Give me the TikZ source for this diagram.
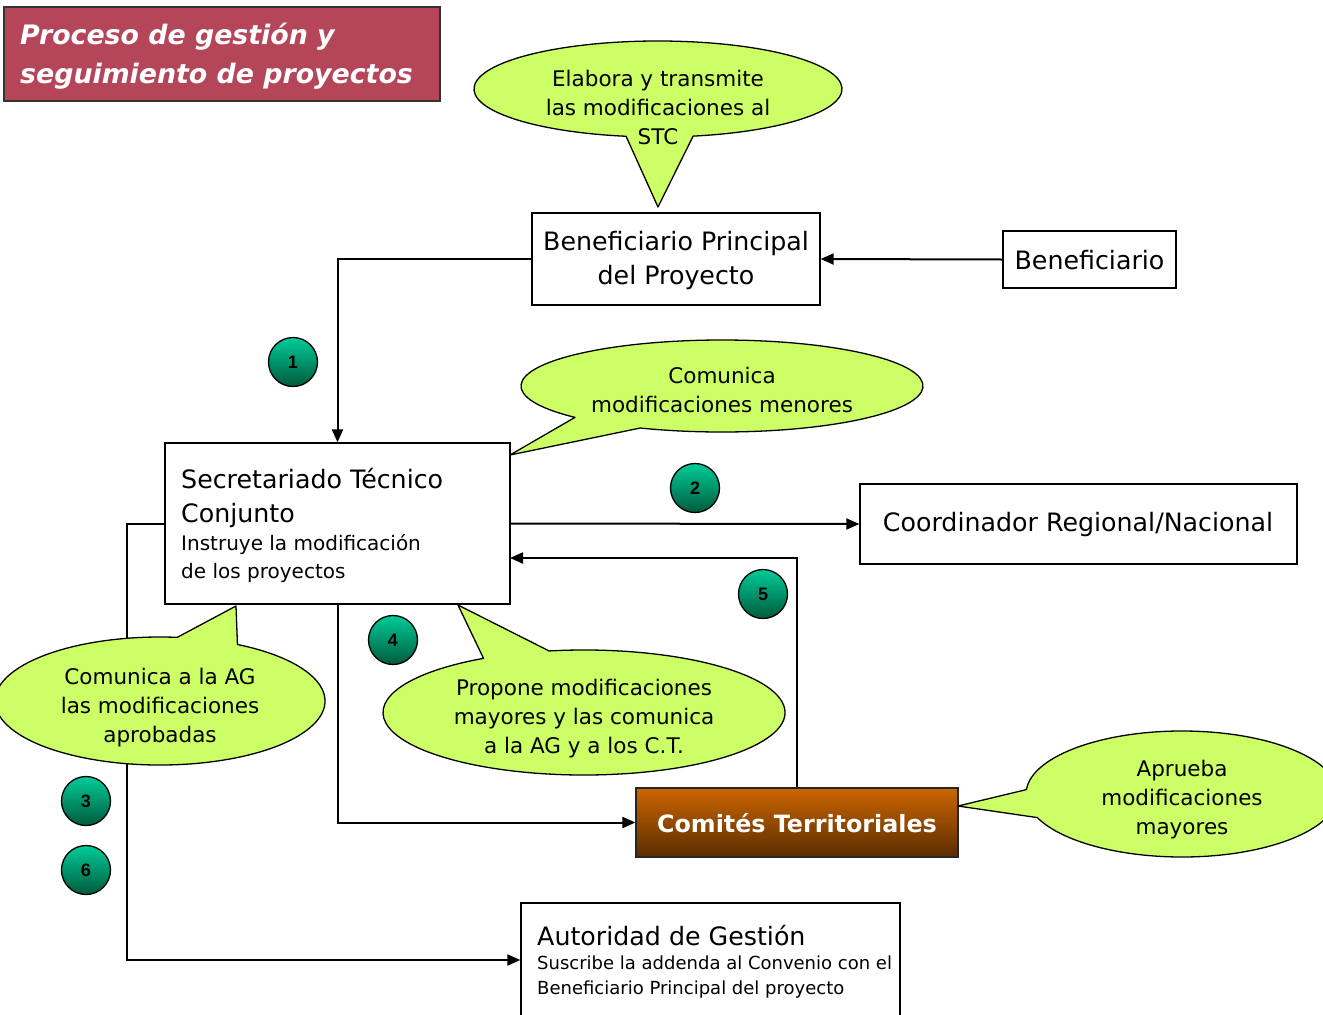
\documentclass[tikz,border=0pt]{standalone}
\usepackage{fontspec}
\setmainfont{DejaVu Sans}
\newfontfamily\numfont{Liberation Sans}
\usetikzlibrary{arrows.meta,calc}
\definecolor{bubfill}{HTML}{CCFF66}
\definecolor{titlefill}{HTML}{B5465A}
\definecolor{ctop}{HTML}{CC6600}
\definecolor{cbot}{HTML}{5A2D00}
\definecolor{gtop}{HTML}{00CC99}
\definecolor{gbot}{HTML}{005A3C}
\newcommand\myfs[2]{\fontsize{#1pt}{#2pt}\selectfont}
\newcommand\bubblepath[8]{%
  \path[bubble] (#5,#6) -- ($(#1,#2)+(#7:#3 and #4)$)
    arc[start angle=#7, end angle=#8, x radius=#3, y radius=#4] -- cycle;}
\begin{document}
\begin{tikzpicture}[x=1pt,y=-1pt,
  box/.style={draw=black, line width=1.3pt, fill=white, inner sep=0pt, rectangle},
  arr/.style={draw=black, line width=2pt, -{Triangle[length=13pt,width=11pt]}},
  bubble/.style={fill=bubfill, draw=black, line width=1.3pt, line join=round},
  btext/.style={align=center, font=\myfs{21.5}{29}, inner sep=0pt},
  mtext/.style={font=\myfs{25.3}{34}, inner sep=0pt},
  stext/.style={inner sep=0pt},
  num/.style={circle, draw=black, line width=1.3pt, minimum size=49pt, inner sep=0pt,
    top color=gtop, bottom color=gbot, font=\numfont\bfseries\myfs{18}{18}}
]
\useasboundingbox (0,0) rectangle (1323,1015);
\fill[white] (0,0) rectangle (1323,1015);

% title
\node[draw=black!80, line width=1.3pt, fill=titlefill, minimum width=436pt, minimum height=94pt, inner sep=0pt] (titlebox) at (222,54) {};
\node[anchor=west, align=left, text=white, inner sep=0pt, font=\bfseries\itshape\myfs{26.8}{39}] (ttl) at (20,56) {Proceso de gestión y\\seguimiento de proyectos};

% connectors
\node[box, minimum width=288pt, minimum height=92pt] (bp) at (676,259) {};
\node[box, minimum width=173pt, minimum height=57pt] (ben) at (1089.5,259.5) {};
\node[box, minimum width=345pt, minimum height=161pt] (stc) at (337.5,523.5) {};
\node[box, minimum width=437pt, minimum height=80pt] (coord) at (1078.5,524) {};
\node[draw=black!85, line width=1.3pt, inner sep=0pt, minimum width=322pt, minimum height=69pt,
  top color=ctop, bottom color=cbot] (ct) at (797,822.5) {};
\node[box, minimum width=379pt, minimum height=114pt] (ag) at (710.5,960) {};

\coordinate (p5) at (510,558);
\draw[arr] (ben.west) -- (bp.east);
\draw[arr] (bp.west) -| (stc.north);
\draw[arr] (stc.east) -- (coord.west);
\draw[arr] (ct.north) |- (p5);
\draw[arr] (stc.south) |- (ct.west);
\draw[arr] (stc.west) -- ++(-37,0) |- (ag.west);

% box texts
\node[mtext, align=center] (bpt) at (676,261) {Beneficiario Principal\\del Proyecto};
\node[mtext] (bent) at (1089.5,260) {Beneficiario};
\node[mtext, anchor=west, align=left] (stct) at (181,498) {Secretariado Técnico\\Conjunto};
\node[stext, anchor=west, align=left, font=\myfs{20}{28}] (stcs) at (181,559) {Instruye la modificación\\de los proyectos};
\node[mtext] (coordt) at (1078,525) {Coordinador Regional/Nacional};
\node[text=white, inner sep=0pt, font=\bfseries\myfs{23.8}{30}] (ctt) at (797,823) {Comités Territoriales};
\node[mtext, anchor=west] (agt) at (537,936) {Autoridad de Gestión};
\node[stext, anchor=west, align=left, font=\myfs{18}{25}] (ags) at (537,977.5) {Suscribe la addenda al Convenio con el\\Beneficiario Principal del proyecto};

% bubbles
\bubblepath{658}{89}{184}{48}{658}{207}{100}{439}
\node[btext] (b1) at (658,107) {Elabora y transmite\\las modificaciones al\\STC};
\bubblepath{722}{386}{201}{46}{510}{455}{137}{474}
\node[btext] (b2) at (722,390) {Comunica\\modificaciones menores};
\bubblepath{584}{712.5}{201}{62.5}{458}{605}{260}{600}
\node[btext] (b3) at (584,719) {Propone modificaciones\\mayores y las comunica\\a la AG y a los C.T.};
\bubblepath{1182}{794}{156}{63}{958}{806}{184}{518}
\node[btext] (b4) at (1182,800) {Aprueba\\modificaciones\\mayores};
\bubblepath{160}{701}{165}{64}{236}{606}{298}{636}
\node[btext] (b5) at (160,708) {Comunica a la AG\\las modificaciones\\aprobadas};

% numbers
\node[num] (n1) at (293,362) {1};
\node[num] (n2) at (695,488) {2};
\node[num] (n3) at (86,801) {3};
\node[num] (n4) at (393,640) {4};
\node[num] (n5) at (763,594) {5};
\node[num] (n6) at (86,870) {6};
\end{tikzpicture}
\end{document}
